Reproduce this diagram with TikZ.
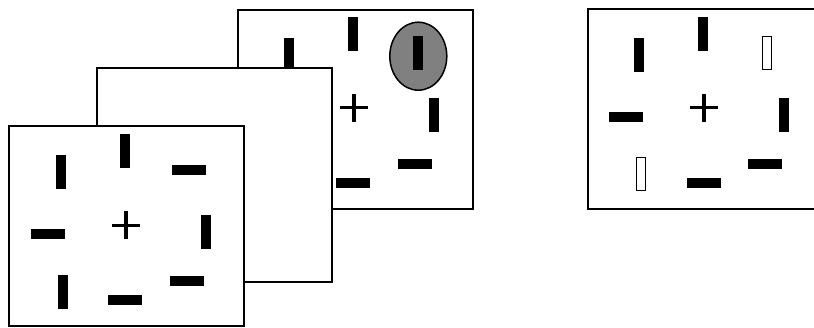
\documentclass[tikz,border=0pt]{standalone}
\usetikzlibrary{shapes.geometric}
\tikzset{
  card/.style={draw=black, line width=1.8pt, fill=white, anchor=north west, inner sep=0pt, minimum width=235pt, minimum height=200pt},
  vbar/.style={fill=black, inner sep=0pt, minimum width=10pt, minimum height=34pt},
  hbar/.style={fill=black, inner sep=0pt, minimum width=34pt, minimum height=10pt},
  obar/.style={draw=black, fill=white, line width=1pt, inner sep=0pt, minimum width=9pt, minimum height=33pt},
  cue/.style={ellipse, draw=black, line width=1.5pt, fill=black!50, inner sep=0pt, minimum width=57pt, minimum height=68pt},
  fixcross/.pic={\draw[line width=3.4pt] (-14,0) -- (14,0) (0,-14) -- (0,14);}
}
\begin{document}
\begin{tikzpicture}[x=1pt,y=-1pt]
\clip (0,0) rectangle (814,327);
\fill[white] (0,0) rectangle (814,327);
% back card
\node[card, minimum height=199pt] (back) at (237,9) {};
\node[vbar] (b1) at (289,55) {};
\node[vbar] (b2) at (353.3,33.7) {};
\node[cue] (cue) at (418.3,56.2) {};
\node[vbar] (b3) at (417.5,53) {};
\pic at (354,107.7) {fixcross};
\node[vbar] (b5) at (434.3,114.7) {};
\node[hbar] (b6) at (353.3,182.8) {};
\node[hbar] (b7) at (415.3,163.8) {};
% middle card
\node[card, minimum height=214pt] (mid) at (96,67) {};
% front card
\node[card] (front) at (8,125) {};
\node[vbar] (f1) at (61,172.3) {};
\node[vbar] (f2) at (125,151) {};
\node[hbar] (f3) at (189,170.2) {};
\node[hbar] (f4) at (48.3,234.2) {};
\pic at (126,225.3) {fixcross};
\node[vbar] (f5) at (206,232.2) {};
\node[vbar] (f6) at (63.3,292) {};
\node[hbar] (f7) at (125.3,300.2) {};
\node[hbar] (f8) at (187,281.2) {};
% right card
\node[card] (right) at (587,8) {};
\node[vbar] (r1) at (639.3,54.8) {};
\node[vbar] (r2) at (703.3,33.7) {};
\node[obar] (r3) at (767.3,52.7) {};
\node[hbar] (r4) at (626.3,116.8) {};
\pic at (704,107.7) {fixcross};
\node[vbar] (r5) at (784.3,114.7) {};
\node[obar] (r6) at (641.3,174.2) {};
\node[hbar] (r7) at (703.5,182.8) {};
\node[hbar] (r8) at (765.3,163.8) {};
\end{tikzpicture}
\end{document}
